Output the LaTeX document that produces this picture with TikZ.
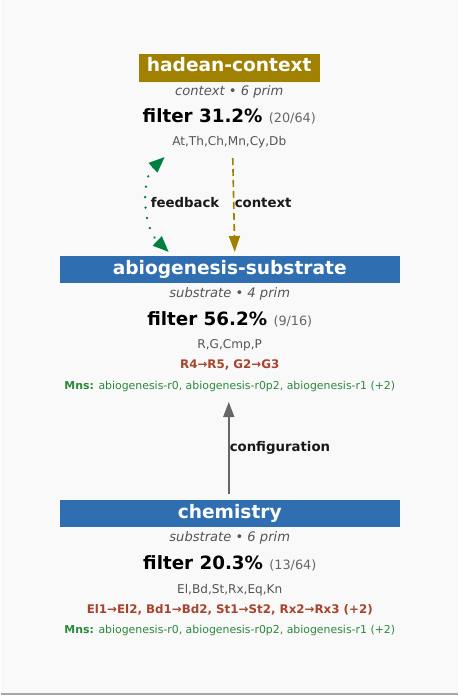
\documentclass[tikz,border=0pt]{standalone}
\usepackage{fontspec}
\setmainfont{DejaVu Sans}
\usetikzlibrary{arrows.meta}
\definecolor{bg}{HTML}{F9F9F9}
\definecolor{gold}{HTML}{A08000}
\definecolor{blu}{HTML}{2F6EB0}
\definecolor{redt}{HTML}{A8442C}
\definecolor{grn}{HTML}{2A8A3A}
\definecolor{fbg}{HTML}{00803F}
\definecolor{gry}{HTML}{666666}
\definecolor{subt}{HTML}{555555}
\begin{document}
\begin{tikzpicture}[x=1pt,y=-1pt,
  txt/.style={anchor=base, inner sep=0, outer sep=0},
  title/.style={txt, font=\fontsize{18.6}{20}\selectfont\bfseries, text=white},
  boxst/.style={inner sep=0, outer sep=0, minimum height=27.5pt},
  kind/.style={txt, font=\fontsize{13.1}{15}\selectfont\itshape, text=subt},
  filt/.style={txt, font=\fontsize{18.3}{20}\selectfont\bfseries, text=black},
  prims/.style={txt, font=\fontsize{12.1}{14}\selectfont, text=subt},
  chg/.style={txt, font=\fontsize{11.85}{14}\selectfont\bfseries, text=redt},
  mns/.style={txt, font=\fontsize{10.9}{13}\selectfont, text=grn},
  elab/.style={txt, font=\fontsize{13.3}{15}\selectfont\bfseries, text=black!90},
]
\fill[bg] (0,0) rectangle (457,695);
\draw[black!35, line width=1.5pt] (0,694.2) -- (457,694.2);

% hadean-context
\node[boxst, fill=gold, minimum width=181pt] (hbox) at (228.5,68) {};
\node[title] (htitle) at (228.5,72) {hadean-context};
\node[kind] (hkind) at (228.5,95.5) {context • 6 prim};
\node[filt] (hfilt) at (228.5,123) {filter 31.2\% {\fontsize{12.8}{14}\selectfont\mdseries\color{gry}(20/64)}};
\node[prims] (hprims) at (228.5,146) {At,Th,Ch,Mn,Cy,Db};

% abiogenesis-substrate
\node[boxst, fill=blu, minimum width=340pt] (abox) at (229,269.5) {};
\node[title] (atitle) at (229,274.5) {abiogenesis-substrate};
\node[kind] (akind) at (229,297.5) {substrate • 4 prim};
\node[filt] (afilt) at (229,325) {filter 56.2\% {\fontsize{12.8}{14}\selectfont\mdseries\color{gry}(9/16)}};
\node[prims] (aprims) at (229,348) {R,G,Cmp,P};
\node[chg] (achg) at (229,368) {R4→R5, G2→G3};
\node[mns] (amns) at (229,389) {\textbf{Mns:} abiogenesis-r0, abiogenesis-r0p2, abiogenesis-r1 (+2)};

% chemistry
\node[boxst, fill=blu, minimum width=340pt] (cbox) at (229,513.5) {};
\node[title] (ctitle) at (229,518) {chemistry};
\node[kind] (ckind) at (229,541) {substrate • 6 prim};
\node[filt] (cfilt) at (229,569) {filter 20.3\% {\fontsize{12.8}{14}\selectfont\mdseries\color{gry}(13/64)}};
\node[prims] (cprims) at (229,593) {El,Bd,St,Rx,Eq,Kn};
\node[chg] (cchg) at (229,613) {El1→El2, Bd1→Bd2, St1→St2, Rx2→Rx3 (+2)};
\node[mns] (cmns) at (229,633) {\textbf{Mns:} abiogenesis-r0, abiogenesis-r0p2, abiogenesis-r1 (+2)};

% connector end points
\coordinate (fbtop) at (164,157);
\coordinate (fbbot) at (168,252);
\coordinate (cxtop) at (232,158);
\coordinate (cxbot) at (234,252);
\coordinate (cfbot) at (228,494);
\coordinate (cftop) at (228,402);

% feedback
\draw[fbg, line width=2.6pt, dash pattern=on 0.01pt off 10.5pt, line cap=round,
      {Triangle[length=16pt,width=12.5pt,line cap=butt]}-{Triangle[length=16pt,width=12.5pt,line cap=butt]}]
  (fbtop) .. controls (141,178) and (141,226) .. (fbbot);
\node[elab, anchor=base west] (lfb) at (150,207) {feedback};

% context
\draw[gold, line width=1.6pt, dash pattern=on 7pt off 4pt, -{Triangle[length=16pt,width=11pt]}]
  (cxtop) -- (cxbot);
\node[elab, anchor=base west] (lcx) at (234,207) {context};

% configuration
\draw[gry, line width=1.5pt, -{Triangle[length=15pt,width=11pt]}] (cfbot) -- (cftop);
\node[elab, anchor=base west] (lcf) at (229,451) {configuration};
\end{tikzpicture}
\end{document}
